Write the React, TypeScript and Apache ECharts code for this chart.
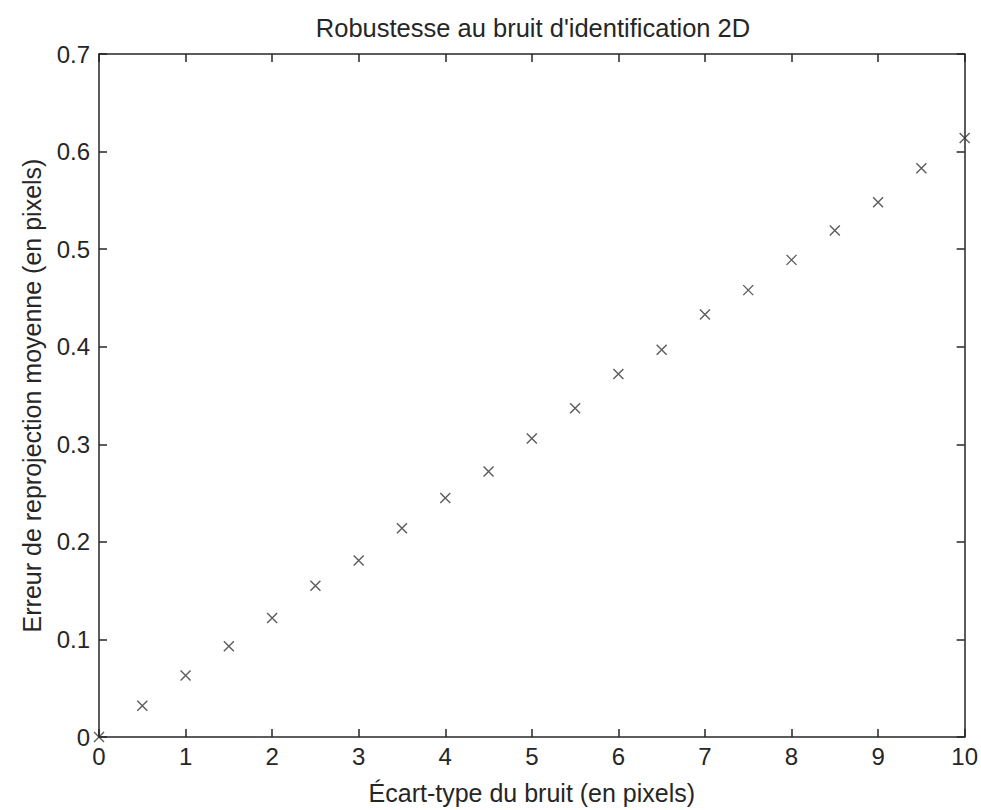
import React, { useEffect, useRef } from "react";
import * as echarts from "echarts";

const xValues = [0, 0.5, 1, 1.5, 2, 2.5, 3, 3.5, 4, 4.5, 5, 5.5, 6, 6.5, 7, 7.5, 8, 8.5, 9, 9.5, 10];
const yValues = [0, 0.032, 0.063, 0.093, 0.122, 0.155, 0.181, 0.214, 0.245, 0.272, 0.306, 0.337, 0.372, 0.397, 0.433, 0.458, 0.489, 0.519, 0.548, 0.583, 0.614];

const title = "Robustesse au bruit d'identification 2D";
const xName = "Écart-type du bruit (en pixels)";
const yName = "Erreur de reprojection moyenne (en pixels)";

export default function App() {
  const ref = useRef<HTMLDivElement>(null);
  useEffect(() => {
    const chart = echarts.init(ref.current!, undefined, { renderer: "svg" });
    const font = "Liberation Sans, Arial, sans-serif";
    const textColor = "#262626";
    const axisLine = { show: true, onZero: false, lineStyle: { color: "#262626", width: 1.5 } };
    const axisTick = { show: true, inside: true, length: 8, lineStyle: { color: "#262626", width: 1.5 } };
    chart.setOption({
      animation: false,
      backgroundColor: "#fff",
      title: {
        text: title,
        left: 528,
        top: 10,
        textAlign: "center",
        textStyle: { fontFamily: font, fontSize: 25.5, fontWeight: "normal", color: textColor },
      },
      grid: { left: 99, right: 14, top: 54, bottom: 72, containLabel: false },
      xAxis: [
        {
          type: "value",
          position: "bottom",
          min: 0,
          max: 10,
          interval: 1,
          axisLine,
          axisTick,
          splitLine: { show: false },
          axisLabel: { color: textColor, fontFamily: font, fontSize: 24, margin: 7 },
          name: xName,
          nameLocation: "middle",
          nameGap: 43,
          nameTextStyle: { color: textColor, fontFamily: font, fontSize: 25 },
        },
        {
          type: "value",
          position: "top",
          min: 0,
          max: 10,
          interval: 1,
          axisLine,
          axisTick,
          splitLine: { show: false },
          axisLabel: { show: false },
        },
      ],
      yAxis: [
        {
          type: "value",
          position: "left",
          min: 0,
          max: 0.7,
          interval: 0.1,
          axisLine,
          axisTick,
          splitLine: { show: false },
          axisLabel: {
            color: textColor,
            fontFamily: font,
            fontSize: 24,
            margin: 9,
            formatter: (v: number) => (v === 0 ? "0" : v.toFixed(1)),
          },
          name: yName,
          nameLocation: "middle",
          nameGap: 55,
          nameTextStyle: { color: textColor, fontFamily: font, fontSize: 25 },
        },
        {
          type: "value",
          position: "right",
          min: 0,
          max: 0.7,
          interval: 0.1,
          axisLine,
          axisTick,
          splitLine: { show: false },
          axisLabel: { show: false },
        },
      ],
      series: [
        {
          type: "scatter",
          data: xValues.map((x, i) => [x, yValues[i]]),
          symbol: "path://M0,0L10,10M10,0L0,10",
          symbolSize: 10,
          itemStyle: { color: "none", borderColor: "#333", borderWidth: 1.4 },
          clip: false,
        },
      ],
    });
    return () => chart.dispose();
  }, []);
  return <div ref={ref} style={{ width: 981, height: 810, position: "absolute", left: 0, top: 0 }} />;
}
